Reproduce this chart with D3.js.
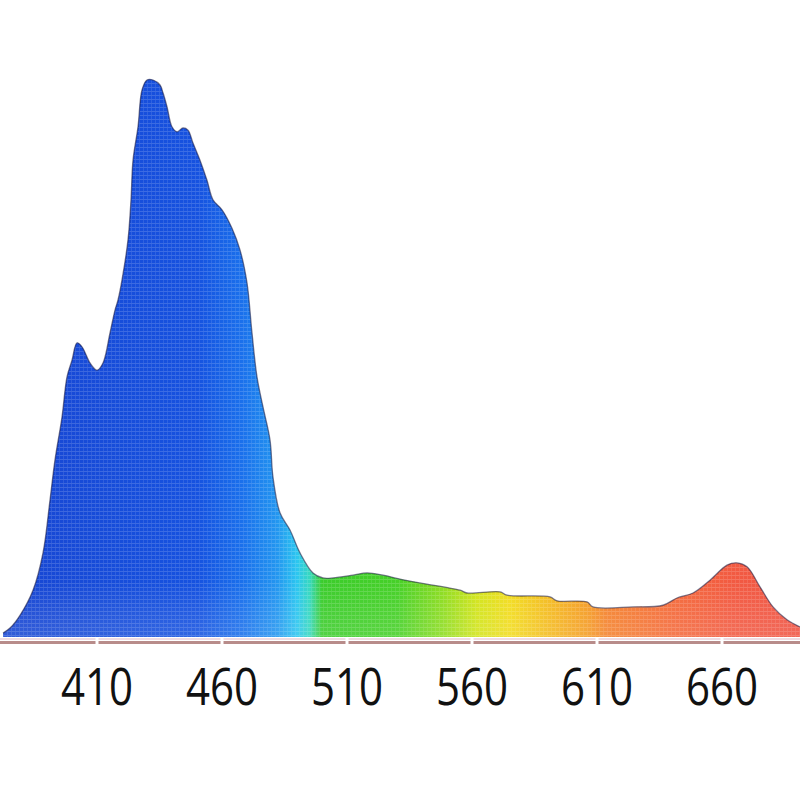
<!DOCTYPE html>
<html>
<head>
<meta charset="utf-8">
<script src="https://cdn.jsdelivr.net/npm/d3@7"></script>
<style>
  html, body { margin: 0; padding: 0; background: #ffffff; }
  svg { display: block; }
</style>
</head>
<body>
<div id="chart"></div>
<script>
// Wavelength (nm) samples along the spectrum outline
const wavelengths = [372.4, 375.2, 379.2, 384.4, 388.4, 391.2, 393.2, 396, 398, 400, 402, 404, 407.2, 410,
  412.4, 415.2, 417.2, 418.4, 420, 422.4, 423.6, 424.4, 426.4, 428, 430, 432.4, 435.2, 436.4, 438, 440,
  442, 444.4, 446.4, 448.4, 451.2, 454, 456.4, 460, 464, 467.2, 470, 472, 474, 476.4, 479.2, 480.4,
  483.2, 487.2, 491.2, 496.4, 500.4, 504.4, 512.4, 518, 524.4, 531.2, 539.2, 555.2, 558, 571.2, 574,
  591.2, 594, 606, 608.4, 624.4, 636.4, 642, 648.4, 655.2, 662, 666, 670, 675.2, 680.4, 686, 691.2];
// Relative intensity (%) at each wavelength
const intensity = [0.7, 1.6, 3.9, 8.4, 15.1, 24.6, 31.8, 39.5, 46.7, 49.7, 52.8, 52.1, 49.2, 47.9,
  49.2, 54.6, 58.7, 60.5, 64.1, 71.3, 78.5, 85.6, 91.6, 98.2, 100, 100, 99.1, 97.7, 95.2, 91.6,
  90.7, 91.4, 91, 88.7, 85.6, 82, 78.5, 76.7, 73.4, 69.5, 63.6, 54.6, 46.7, 41.3, 35.4, 28.7,
  22.3, 19.2, 15.1, 11.5, 10.6, 10.6, 11.1, 11.5, 11.1, 10.4, 9.7, 8.4, 7.9, 8.1, 7.5,
  7.2, 6.5, 6.3, 5.4, 5.4, 5.7, 7.0, 7.9, 10.2, 12.9, 13.3, 12.6, 9.0, 5.4, 3.1, 1.8];
// Axis tick labels (nm)
const tickValues = [410, 460, 510, 560, 610, 660];
// Colour of light across the spectrum
const gradientNm = [372, 450, 468, 482, 490, 495, 500, 530, 548, 562, 575, 592, 606, 614, 640, 665, 692];
const gradientColors = ["#1846d2", "#1652e0", "#1a70ec", "#2396f0", "#2cc6f0", "#36d8c0", "#3ccc2c",
  "#46d028", "#8cdc20", "#d2e41a", "#f2dc1e", "#f4b820", "#f49c24", "#f4822e", "#f46a3a", "#f25a42", "#f05444"];

const W = 800, H = 800;
const x = d3.scaleLinear().domain([410, 660]).range([97, 722]);
const y = d3.scaleLinear().domain([0, 100]).range([637, 80]);

const svg = d3.select("#chart").append("svg").attr("width", W).attr("height", H);
const defs = svg.append("defs");

const grad = defs.append("linearGradient")
  .attr("id", "spec").attr("gradientUnits", "userSpaceOnUse")
  .attr("x1", x(gradientNm[0])).attr("x2", x(gradientNm[gradientNm.length - 1]))
  .attr("y1", 0).attr("y2", 0);
const g0 = gradientNm[0], g1 = gradientNm[gradientNm.length - 1];
gradientNm.forEach((nm, i) => {
  grad.append("stop").attr("offset", (nm - g0) / (g1 - g0)).attr("stop-color", gradientColors[i]);
});

// faint LED-mesh texture
const pat = defs.append("pattern").attr("id", "mesh").attr("patternUnits", "userSpaceOnUse")
  .attr("width", 4).attr("height", 4);
pat.append("rect").attr("x", 0).attr("y", 3).attr("width", 4).attr("height", 1).attr("fill", "rgba(255,255,255,0.16)");
pat.append("rect").attr("x", 3).attr("y", 0).attr("width", 1).attr("height", 3).attr("fill", "rgba(255,255,255,0.10)");

// slight bottom whitening
const vgrad = defs.append("linearGradient").attr("id", "fade").attr("x1", 0).attr("x2", 0).attr("y1", 0).attr("y2", 1);
vgrad.append("stop").attr("offset", 0).attr("stop-color", "#fff").attr("stop-opacity", 0);
vgrad.append("stop").attr("offset", 0.9).attr("stop-color", "#fff").attr("stop-opacity", 0);
vgrad.append("stop").attr("offset", 1).attr("stop-color", "#fff").attr("stop-opacity", 0.12);

const data = wavelengths.map((w, i) => ({ w, v: intensity[i] }));

const area = d3.area().x(d => x(d.w)).y0(y(0)).y1(d => y(d.v)).curve(d3.curveCatmullRom.alpha(0.5));
const line = d3.line().x(d => x(d.w)).y(d => y(d.v)).curve(d3.curveCatmullRom.alpha(0.5));

svg.append("path").datum(data).attr("d", area).attr("fill", "url(#spec)");
svg.append("path").datum(data).attr("d", area).attr("fill", "url(#mesh)");
svg.append("path").datum(data).attr("d", area)
  .attr("fill", "url(#fade)");
svg.append("path").datum(data).attr("d", line)
  .attr("fill", "none").attr("stroke", "rgba(20,20,60,0.55)").attr("stroke-width", 1.3);

// axis
const axisG = svg.append("g");
axisG.append("line").attr("x1", 0).attr("x2", W).attr("y1", 639).attr("y2", 639)
  .attr("stroke", "#ead0d8").attr("stroke-width", 1.5);
axisG.append("line").attr("x1", 0).attr("x2", W).attr("y1", 642.5).attr("y2", 642.5)
  .attr("stroke", "#b88c8a").attr("stroke-width", 3);
axisG.selectAll("rect.tick").data(tickValues).join("rect")
  .attr("class", "tick")
  .attr("x", d => x(d) - 1.5).attr("y", 637).attr("width", 3).attr("height", 8)
  .attr("fill", "#ffffff");

axisG.selectAll("text.lbl").data(tickValues).join("text")
  .attr("class", "lbl")
  .attr("transform", d => `translate(${x(d)},705) scale(1,1.2)`)
  .attr("text-anchor", "middle")
  .attr("font-family", "'Open Sans', 'DejaVu Sans', sans-serif")
  .attr("font-size", 42)
  .attr("fill", "#111")
  .text(d => d);
</script>
</body>
</html>
